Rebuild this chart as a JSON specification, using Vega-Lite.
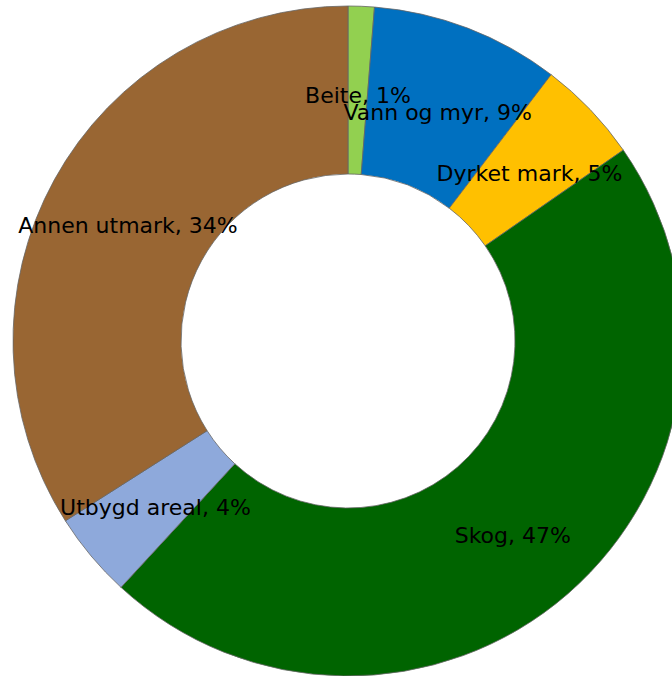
{
  "$schema": "https://vega.github.io/schema/vega-lite/v6.json",
  "width": 648,
  "height": 670,
  "autosize": {"type": "none"},
  "padding": {"left": 24, "top": 6, "right": 0, "bottom": 0},
  "background": "white",
  "view": {"stroke": null},
  "data": {
    "values": [
      {"category": "Beite", "value": 1.26, "label": "Beite, 1%", "order": 1},
      {"category": "Vann og myr", "value": 9.11, "label": "Vann og myr, 9%", "order": 2},
      {"category": "Dyrket mark", "value": 4.98, "label": "Dyrket mark, 5%", "order": 3},
      {"category": "Skog", "value": 46.5, "label": "Skog, 47%", "order": 4},
      {"category": "Utbygd areal", "value": 4.13, "label": "Utbygd areal, 4%", "order": 5},
      {"category": "Annen utmark", "value": 34.02, "label": "Annen utmark, 34%", "order": 6}
    ]
  },
  "encoding": {
    "theta": {"field": "value", "type": "quantitative", "stack": true},
    "order": {"field": "order", "type": "quantitative"}
  },
  "layer": [
    {
      "mark": {"type": "arc", "innerRadius": 167, "outerRadius": 335, "stroke": "#666666", "strokeWidth": 0.8},
      "encoding": {
        "color": {
          "field": "category",
          "type": "nominal",
          "legend": null,
          "scale": {
            "domain": ["Beite", "Vann og myr", "Dyrket mark", "Skog", "Utbygd areal", "Annen utmark"],
            "range": ["#92D050", "#0070C0", "#FFC000", "#006400", "#8EA9DB", "#996633"]
          }
        }
      }
    },
    {
      "mark": {"type": "text", "radius": 251, "dy": 6, "font": "DejaVu Sans", "fontSize": 22, "color": "black", "align": "center", "baseline": "middle"},
      "encoding": {
        "text": {"field": "label", "type": "nominal"}
      }
    }
  ]
}
